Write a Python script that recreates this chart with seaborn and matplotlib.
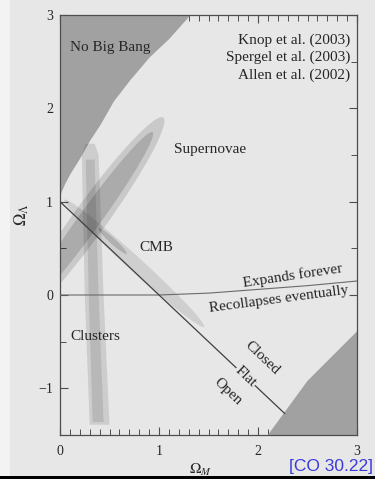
import matplotlib
matplotlib.use("Agg")
import matplotlib.pyplot as plt
import seaborn as sns
from matplotlib.patches import Ellipse, Polygon, Rectangle
from matplotlib.ticker import MultipleLocator

# ---- values ---------------------------------------------------------------
# boundary of the "No Big Bang" zone (Omega_M, Omega_Lambda)
nobb_m = [0.0, 0.05, 0.1, 0.2, 0.3, 0.4, 0.54, 0.7, 0.9, 1.1, 1.31]
nobb_l = [1.08, 1.2, 1.3, 1.47, 1.66, 1.82, 2.08, 2.3, 2.55, 2.75, 3.0]

# excluded corner at large Omega_M
corner_m = [2.10, 2.5, 3.0]
corner_l = [-1.5, -0.92, -0.39]

# flat-universe line Omega_M + Omega_Lambda = 1
flat_m = [0.0, 2.27]
flat_l = [1.0, -1.27]

# expands forever / recollapses boundary
exp_m = [0.0, 1.0, 1.5, 2.0, 2.5, 3.0]
exp_l = [0.0, 0.0, 0.02, 0.06, 0.10, 0.15]

# confidence regions: centre M, centre L, semi-major, semi-minor, angle
sn_outer = (0.30, 0.81, 1.32, 0.17, 55.8)
sn_inner = (0.30, 0.81, 1.13, 0.11, 55.8)
cmb_outer = (0.75, 0.34, 0.98, 0.075, -44.0)
cmb_inner = (0.53, 0.58, 0.20, 0.03, -44.0)

# cluster band outlines
cl_outer_m = [0.30, 0.50, 0.44, 0.39, 0.35, 0.26, 0.22, 0.25]
cl_outer_l = [-1.39, -1.39, 0.0, 1.5, 1.62, 1.62, 1.5, 0.0]
cl_inner_m = [0.33, 0.44, 0.39, 0.35, 0.26, 0.29]
cl_inner_l = [-1.36, -1.36, 0.0, 1.45, 1.45, 0.0]

x_ticks = [0, 1, 2, 3]
y_ticks = [-1, 0, 1, 2, 3]
references = ["Knop et al. (2003)", "Spergel et al. (2003)", "Allen et al. (2002)"]

# ---- style ----------------------------------------------------------------
page = "#e7e7e7"
ink = "#262626"
sns.set_theme(style="ticks")
plt.rcParams["font.family"] = ["Liberation Serif", "DejaVu Serif"]
plt.rcParams["mathtext.fontset"] = "stix"

fig = plt.figure(figsize=(3.75, 4.79), dpi=100, facecolor=page)
ax = fig.add_axes([60 / 375, 1 - 435 / 479, 297 / 375, 420 / 479])
ax.set_facecolor(page)
ax.set_xlim(0, 3)
ax.set_ylim(-1.5, 3)

# left margin of the page
fig.add_artist(Rectangle((0, 0), 10 / 375, 1, transform=fig.transFigure,
                         facecolor="#f3f3f3", edgecolor="none", zorder=0))

# excluded zones
ax.fill_between(nobb_m + [0.0], nobb_l + [3.0], 3.0, color="#a1a1a1", lw=0, zorder=1)
ax.add_patch(Polygon(list(zip(corner_m, corner_l)) + [(3.0, -1.5)], closed=True,
                     facecolor="#a1a1a1", edgecolor="none", zorder=1))


def add_ellipse(p, alpha):
    cx, cy, a, b, ang = p
    ax.add_patch(Ellipse((cx, cy), 2 * a, 2 * b, angle=ang, facecolor="black",
                         alpha=alpha, edgecolor="none", zorder=2))


add_ellipse(sn_outer, 0.13)
add_ellipse(sn_inner, 0.15)
ax.add_patch(Polygon(list(zip(cl_outer_m, cl_outer_l)), closed=True,
                     facecolor="black", alpha=0.11, edgecolor="none", zorder=2))
ax.add_patch(Polygon(list(zip(cl_inner_m, cl_inner_l)), closed=True,
                     facecolor="black", alpha=0.10, edgecolor="none", zorder=2))
add_ellipse(cmb_outer, 0.10)
add_ellipse(cmb_inner, 0.15)

# lines
sns.lineplot(x=exp_m, y=exp_l, ax=ax, color="#6a6a6a", lw=0.8, sort=False,
             estimator=None, zorder=3)
sns.lineplot(x=flat_m, y=flat_l, ax=ax, color="#404040", lw=0.9, sort=False,
             estimator=None, zorder=3)

# labels
fs = 11
tkw = dict(fontsize=fs, color=ink, zorder=5)
ax.text(0.10, 2.65, "No Big Bang", ha="left", va="center", **tkw)
for i, r in enumerate(references):
    ax.text(2.93, 2.73 - i * 0.186, r, ha="right", va="center", **tkw)
ax.text(1.15, 1.56, "Supernovae", ha="left", va="center", **tkw)
ax.text(0.80, 0.51, "CMB", ha="left", va="center", **tkw)
ax.text(0.10, -0.45, "Clusters", ha="left", va="center", **tkw)
ax.text(2.35, 0.21, "Expands forever", ha="center", va="center", rotation=8.5, **tkw)
ax.text(2.21, -0.05, "Recollapses eventually", ha="center", va="center", rotation=7.5, **tkw)
ax.text(2.04, -0.67, "Closed", ha="center", va="center", rotation=-43.5, **tkw)
ax.text(1.87, -0.88, "Flat", ha="center", va="center", rotation=-43.5,
        bbox=dict(facecolor=page, edgecolor="none", pad=0.5), **tkw)
ax.text(1.70, -1.04, "Open", ha="center", va="center", rotation=-43.5, **tkw)

# axes
for s in ax.spines.values():
    s.set_color("#4d4d4d")
    s.set_linewidth(0.9)
ax.set_xticks(x_ticks)
ax.set_yticks(y_ticks)
ax.set_xticklabels([str(v) for v in x_ticks])
ax.set_yticklabels([str(v).replace("-", "\u2212") for v in y_ticks])
ax.xaxis.set_minor_locator(MultipleLocator(0.1))
ax.yaxis.set_minor_locator(MultipleLocator(0.5))
ax.tick_params(which="both", direction="in", top=True, right=True, colors="#4d4d4d",
               labelcolor=ink, labelsize=10)
ax.tick_params(axis="x", which="major", length=6, width=0.8, pad=7)
ax.tick_params(axis="y", which="major", length=6, width=0.8, pad=5)
ax.tick_params(which="minor", length=4, width=0.7)

ax.text(-0.128, 0.524, r"$\Omega_\Lambda$", transform=ax.transAxes, rotation=90,
        ha="center", va="center", fontsize=12, color=ink)
fig.text(200 / 375, 1.0 / 479, r"$\Omega_M$", ha="center", va="bottom",
         fontsize=11, color=ink)

fig.text(373 / 375, 1 - 466 / 479, "[CO 30.22]", ha="right", va="center",
         fontsize=12.5, color="#3a3ad8", family="Liberation Sans")

fig.add_artist(Rectangle((0, 0), 1, 2.6 / 479, transform=fig.transFigure,
                         facecolor="black", edgecolor="none", zorder=10))

fig.savefig("out.png", dpi=100, facecolor=page)
